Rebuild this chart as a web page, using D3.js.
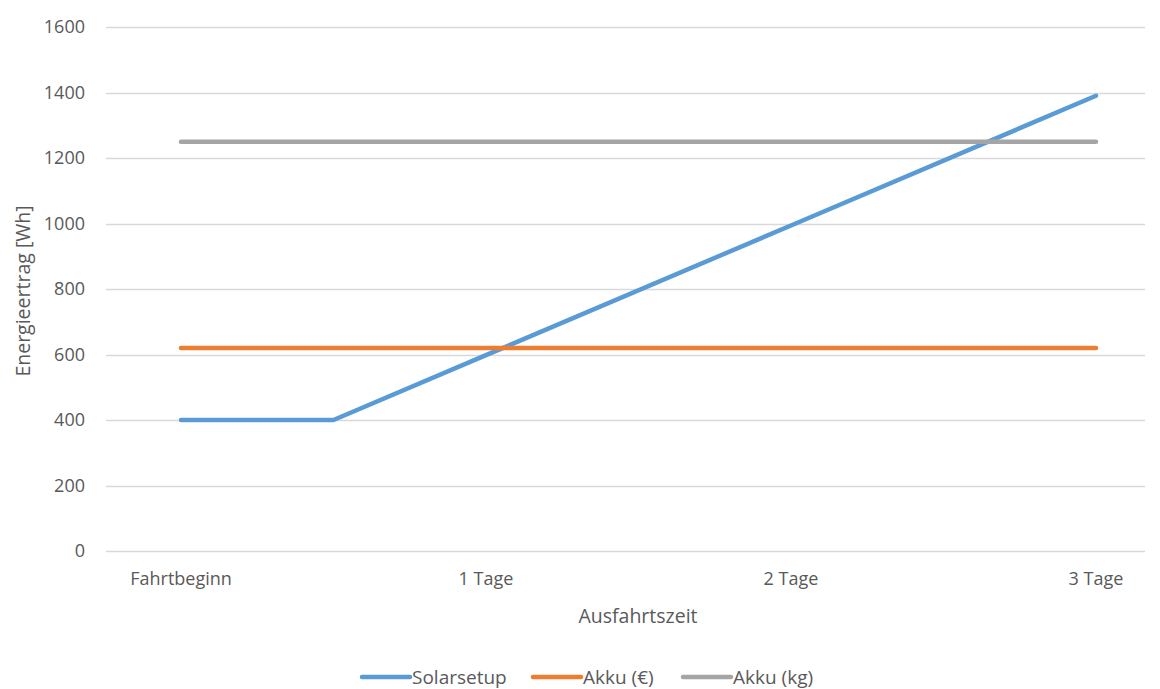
<!DOCTYPE html>
<meta charset="utf-8">
<style>
    body { margin: 0; background: #ffffff; }
    text { font-family: "Open Sans", sans-serif; fill: #595959; }
    .grid line { stroke: #d9d9d9; stroke-width: 1.3px; }
    .tick-label { font-size: 18px; }
    .axis-title { font-size: 19.5px; }
    .legend text { font-size: 19px; }
</style>
<svg width="1160" height="689"></svg>
<script src="https://d3js.org/d3.v7.min.js"></script>
<script>

    // data
    var categories = ["Fahrtbeginn", "1 Tage", "2 Tage", "3 Tage"];
    var categoryDays = [0, 1, 2, 3];
    var solarDays = [0, 0.5, 1, 2, 3];
    var solarValues = [400, 400, 598, 994, 1390];
    var akkuEuroDays = [0, 3];
    var akkuEuroValues = [620, 620];
    var akkuKgDays = [0, 3];
    var akkuKgValues = [1250, 1250];
    var yTicks = [0, 200, 400, 600, 800, 1000, 1200, 1400, 1600];

    var series = [
        { name: "Solarsetup", color: "#5b9bd5", days: solarDays, values: solarValues },
        { name: "Akku (€)", color: "#ed7d31", days: akkuEuroDays, values: akkuEuroValues },
        { name: "Akku (kg)", color: "#a5a5a5", days: akkuKgDays, values: akkuKgValues }
    ];

    var svg = d3.select("svg"),
        plotLeft = 106,
        plotRight = 1145;

    var x = d3.scaleLinear().domain([0, 3]).range([181, 1096]);
    var y = d3.scaleLinear().domain([0, 1600]).range([551, 27]);

    // grid + y labels
    var grid = svg.append("g").attr("class", "grid");
    grid.selectAll("line")
        .data(yTicks)
        .enter().append("line")
        .attr("x1", plotLeft)
        .attr("x2", plotRight)
        .attr("y1", function (d) { return Math.round(y(d)) + 0.5; })
        .attr("y2", function (d) { return Math.round(y(d)) + 0.5; });

    svg.append("g").selectAll("text")
        .data(yTicks)
        .enter().append("text")
        .attr("class", "tick-label")
        .attr("x", 85)
        .attr("y", function (d) { return y(d); })
        .attr("dy", "0.35em")
        .attr("text-anchor", "end")
        .text(function (d) { return d; });

    // x labels
    svg.append("g").selectAll("text")
        .data(categories)
        .enter().append("text")
        .attr("class", "tick-label")
        .attr("x", function (d, i) { return x(categoryDays[i]); })
        .attr("y", 585)
        .attr("text-anchor", "middle")
        .text(function (d) { return d; });

    // axis titles
    svg.append("text")
        .attr("class", "axis-title")
        .attr("transform", "translate(30,291) rotate(-90)")
        .attr("text-anchor", "middle")
        .text("Energieertrag [Wh]");

    svg.append("text")
        .attr("class", "axis-title")
        .attr("x", 638)
        .attr("y", 623)
        .attr("text-anchor", "middle")
        .text("Ausfahrtszeit");

    // lines
    var line = d3.line()
        .x(function (d) { return x(d[0]); })
        .y(function (d) { return y(d[1]); });

    svg.append("g").selectAll("path")
        .data(series)
        .enter().append("path")
        .attr("fill", "none")
        .attr("stroke", function (d) { return d.color; })
        .attr("stroke-width", 4.5)
        .attr("stroke-linecap", "round")
        .attr("stroke-linejoin", "round")
        .attr("d", function (d) {
            return line(d.days.map(function (day, i) { return [day, d.values[i]]; }));
        });

    // legend
    var legendX = [362, 533, 683];
    var legend = svg.append("g").attr("class", "legend")
        .selectAll("g")
        .data(series)
        .enter().append("g")
        .attr("transform", function (d, i) { return "translate(" + legendX[i] + ",677)"; });

    legend.append("line")
        .attr("x1", 0)
        .attr("x2", 48)
        .attr("stroke", function (d) { return d.color; })
        .attr("stroke-width", 4.5)
        .attr("stroke-linecap", "round");

    legend.append("text")
        .attr("x", 50)
        .attr("dy", "0.35em")
        .text(function (d) { return d.name; });

</script>
